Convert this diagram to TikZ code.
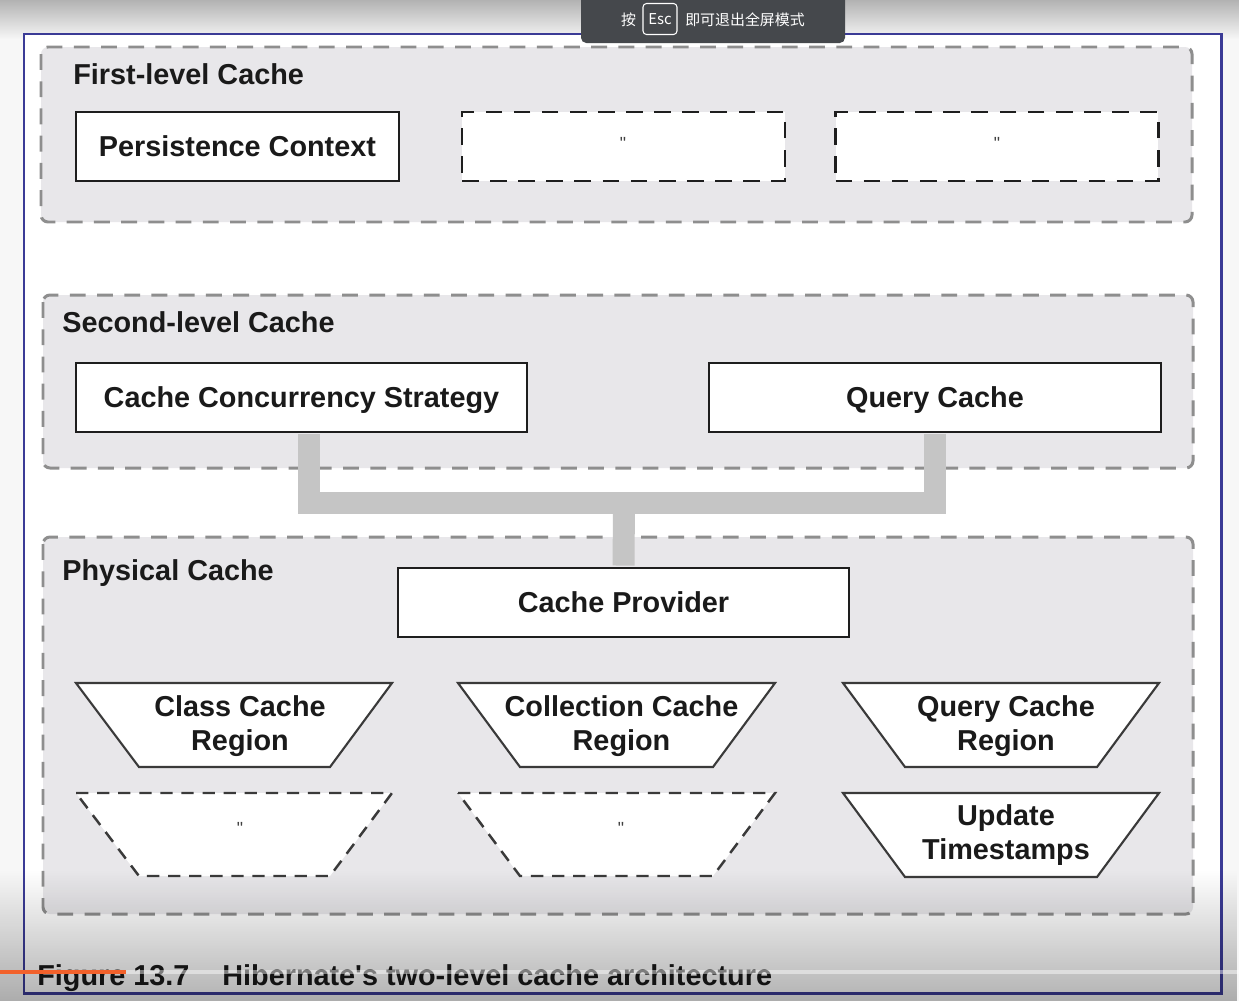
\documentclass[tikz,border=0pt]{standalone}
\usepackage{fontspec}
\setmainfont{Liberation Sans}
\newfontfamily\cjkfont{Noto Sans CJK SC}
\usetikzlibrary{calc,fadings}
\definecolor{panelfill}{HTML}{E8E7EA}
\definecolor{dashgray}{HTML}{8E8E8E}
\definecolor{conngray}{HTML}{C5C5C5}
\definecolor{framecol}{HTML}{3B3B96}
\definecolor{popfill}{HTML}{45484C}
\definecolor{progorange}{HTML}{F2612B}
\definecolor{boxline}{HTML}{1E1E1E}
\definecolor{trapline}{HTML}{3A3A3A}
\definecolor{textcol}{HTML}{1A1A1A}
\begin{document}
\begin{tikzpicture}[x=0.02cm,y=-0.02cm,
  panel/.style={fill=panelfill, draw=dashgray, line width=1.7pt, dash pattern=on 9pt off 6.5pt, rounded corners=4pt},
  lbl/.style={font=\fontsize{16.4}{19.3}\selectfont\bfseries, text=textcol},
  box/.style={lbl, draw=boxline, fill=white, line width=1.4pt, minimum height=1.38cm, inner sep=0pt, text height=11.8pt, text depth=0pt},
  dbox/.style={draw=boxline, fill=white, line width=1.6pt, dash pattern=on 9.5pt off 6.5pt, minimum width=6.46cm, minimum height=1.38cm, inner sep=0pt},
  ditto/.style={font=\fontsize{10}{11}\selectfont, text=black!75, inner sep=0pt},
  trap/.style={draw=trapline, fill=white, line width=1.2pt},
  dtrap/.style={draw=trapline, fill=white, line width=1.4pt, dash pattern=on 7pt off 5pt},
  conn/.style={draw=conngray, line width=12.5pt},
  poptext/.style={font=\cjkfont\fontsize{8.5}{10}\selectfont, text=white, inner sep=0pt}]
\useasboundingbox (0,0) rectangle (1239,1001);
% screen background
\fill[white!97!black] (0,0) rectangle (1239,1001);
\shade[top color=black!30, bottom color=black!4] (0,0) rectangle (1239,38);
% page frame
\draw[framecol, fill=white, line width=1.7pt] (24,34) rectangle (1221,993);
% panels
\path[panel] (41,47) rectangle (1192,222);
\path[panel] (43,295) rectangle (1193,468);
\path[panel] (43,537) rectangle (1193,914);
% panel titles
\node[lbl, anchor=base west, inner sep=0pt] (t1) at (73,84) {First-level Cache};
\node[lbl, anchor=base west, inner sep=0pt] (t2) at (62,332) {Second-level Cache};
\node[lbl, anchor=base west, inner sep=0pt] (t3) at (62,580) {Physical Cache};
% first-level boxes
\node[box, minimum width=6.46cm] (pc) at (237.5,146.5) {Persistence Context};
\node[dbox] (d1) at (623.5,146.5) {};
\node[ditto] (d1m) at (623,143) {\textquotedbl};
\node[dbox] (d2) at (997,146.5) {};
\node[ditto] (d2m) at (997,143) {\textquotedbl};
% second-level boxes
\node[box, minimum width=9.02cm] (ccs) at (301.5,397.5) {Cache Concurrency Strategy};
\node[box, minimum width=9.04cm] (qc) at (935,397.5) {Query Cache};
% physical
\node[box, minimum width=9.02cm] (cp) at (623.5,602.5) {Cache Provider};
% connectors
\coordinate (j) at (624,503);
\draw[conn, shorten <=0.7pt] ($(ccs.south)+(7.5,0)$) |- (j) -| ([yshift=-0.7pt]qc.south);
\draw[conn, shorten >=0.7pt] (j) -- (cp.north);
% trapezoids
\draw[trap] (76,683) -- (392,683) -- (330,767) -- (139,767) -- cycle;
\node[lbl, align=center, inner sep=0pt] (r1) at (240,726) {Class Cache\\Region};
\draw[trap] (458,683) -- (775,683) -- (713,767) -- (520,767) -- cycle;
\node[lbl, align=center, inner sep=0pt] (r2) at (621.5,726) {Collection Cache\\Region};
\draw[trap] (843,683) -- (1159,683) -- (1097,767) -- (905,767) -- cycle;
\node[lbl, align=center, inner sep=0pt] (r3) at (1006,726) {Query Cache\\Region};
\draw[dtrap] (76,793) -- (392,793) -- (330,876) -- (139,876) -- cycle;
\node[ditto] (r4) at (240,828) {\textquotedbl};
\draw[dtrap] (458,793) -- (775,793) -- (713,876) -- (520,876) -- cycle;
\node[ditto] (r5) at (621,828) {\textquotedbl};
\draw[trap] (843,793) -- (1159,793) -- (1097,877) -- (905,877) -- cycle;
\node[lbl, align=center, inner sep=0pt] (r6) at (1006,835) {Update\\Timestamps};
% caption
\node[lbl, anchor=base west, inner sep=0pt] (cap1) at (37,985) {Figure 13.7};
\node[lbl, anchor=base west, inner sep=0pt] (cap2) at (222,985) {Hibernate\textquotesingle s two-level cache architecture};
% video overlay
\fill[black, opacity=0.3, path fading=north] (0,870) rectangle (1239,1001);
\draw[white, opacity=0.45, line width=2pt] (0,972) -- (1239,972);
\draw[progorange, line width=2.4pt] (0,972) -- (126,972);
% popup
\fill[popfill, rounded corners=3pt] (581,-10) rectangle (845,43);
\node[poptext] (pa) at (628.5,20) {按};
\node[poptext, draw=white, line width=0.6pt, rounded corners=2pt, minimum width=0.68cm, minimum height=0.62cm] (esc) at (660,19) {Esc};
\node[poptext] (pb) at (745,20) {即可退出全屏模式};
\end{tikzpicture}
\end{document}
